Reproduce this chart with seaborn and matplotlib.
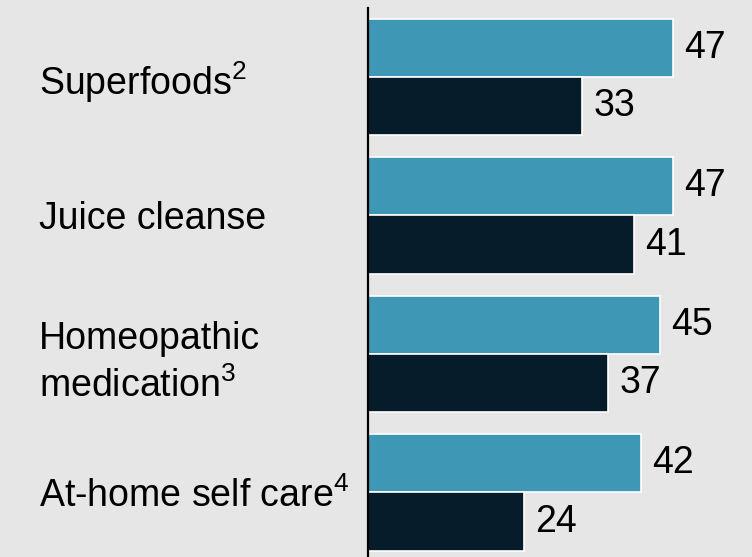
import matplotlib
matplotlib.use("Agg")
import matplotlib.pyplot as plt
import seaborn as sns
import pandas as pd

categories = [
    "Superfoods$^\\mathregular{2}$",
    "Juice cleanse",
    "Homeopathic\nmedication$^\\mathregular{3}$",
    "At-home self care$^\\mathregular{4}$",
]
series_names = ["Series 1", "Series 2"]
values_1 = [47, 47, 45, 42]
values_2 = [33, 41, 37, 24]

colors = ["#3e97b5", "#061c2b"]
bg = "#e6e6e6"

sns.set_theme(style="white")
plt.rcParams["font.family"] = ["Liberation Sans", "DejaVu Sans"]
plt.rcParams["mathtext.fontset"] = "custom"
plt.rcParams["mathtext.rm"] = "Liberation Sans"

df = pd.DataFrame({
    "category": categories * 2,
    "series": [series_names[0]] * 4 + [series_names[1]] * 4,
    "value": values_1 + values_2,
})

W, H = 752, 557
fig = plt.figure(figsize=(W / 100, H / 100), dpi=100, facecolor=bg)
ax_left = 368 / W
ax_top = 8 / H
ax = fig.add_axes([ax_left, 0, 1 - ax_left, 1 - ax_top])
ax.set_facecolor(bg)

sns.barplot(
    data=df, y="category", x="value", hue="series", order=categories,
    hue_order=series_names, palette=colors, saturation=1, orient="h",
    width=0.84, edgecolor="white", linewidth=1.2, legend=False, ax=ax,
)

ax.set_xlim(0, (W - 368) / 6.49)
ax.set_ylim(3.466, -0.498)

for cont in ax.containers:
    ax.bar_label(cont, fmt="%d", padding=8, fontsize=27, color="black")

ax.set_xlabel("")
ax.set_ylabel("")
ax.set_xticks([])
ax.tick_params(axis="y", length=0, pad=(368 - 39) * 0.72, labelsize=27,
               labelcolor="black")
for lbl in ax.get_yticklabels():
    lbl.set_horizontalalignment("left")
    lbl.set_linespacing(1.35)

for side in ["top", "right", "bottom"]:
    ax.spines[side].set_visible(False)
ax.spines["left"].set_color("black")
ax.spines["left"].set_linewidth(1.6)

fig.savefig("out.png", dpi=100, facecolor=bg)
